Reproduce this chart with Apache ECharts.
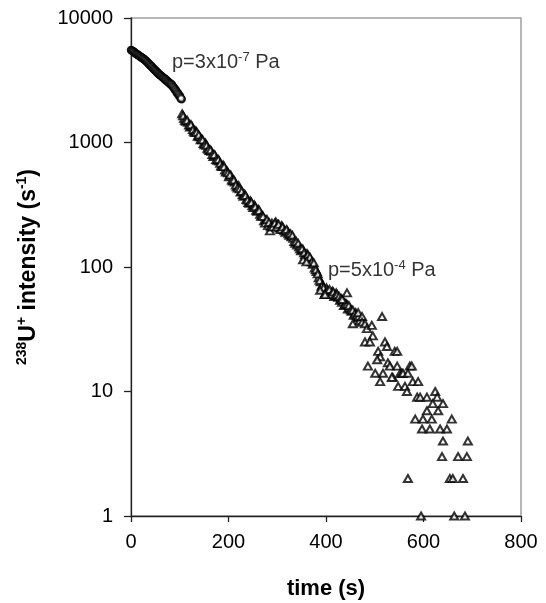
<!DOCTYPE html>
<html><head><meta charset="utf-8">
<script src="https://cdn.jsdelivr.net/npm/echarts@6/dist/echarts.min.js"></script>
<style>html,body{margin:0;padding:0;background:#fff}#c{width:546px;height:603px}</style>
</head><body><div id="c"></div>
<script>
// ---- data (time in s, intensity in s^-1) ----
const circleT = [0,2,4,6,8,10,12,14,16,18,20,22,24,26,28,30,32,34,36,38,40,42,44,46,48,50,52,54,56,58,60,62,64,66,68,70,72,74,76,78,80,82,84,86,88,90,92,94,96,98,100,102,104,
  1,3,5,7,9,11,13,15,17,19,21,23,25,27,29,31,33,35,37,39,41,43,45,47,49,51,53,55,57,59,61,63,65,67,69,71,73,75,77,79,81,83,85,87,89,91,93,95,97,99,101,103];
const circleV = [5530,5460,5400,5350,5240,5190,5100,5080,4980,4950,4850,4830,4720,4700,4620,4540,4500,4380,4340,4200,4180,4060,4030,3900,3880,3770,3750,3620,3610,3500,3490,3400,3390,3290,3300,3180,3200,3090,3100,2990,3010,2900,2920,2790,2770,2640,2650,2500,2510,2370,2390,2250,2230,
  5500,5420,5370,5300,5220,5150,5100,5020,4970,4900,4850,4780,4720,4660,4600,4510,4440,4360,4270,4200,4120,4050,3970,3900,3830,3760,3690,3610,3560,3500,3450,3400,3350,3300,3250,3200,3150,3100,3050,3010,2960,2920,2860,2790,2710,2650,2580,2510,2450,2380,2320,2260];

const triT = [105,109,113,117,121,125,129,133,137,141,145,149,153,157,161,165,169,173,177,181,185,189,193,197,201,205,209,213,217,221,225,229,233,237,241,245,249,253,257,261,265,269,273,277,281,285,289,293,297,301,305,309,313,317,321,325,329,333,337,341,345,349,353,357,361,365,369,373,377,381,385,389,393,397,401,405,409,413,417,421,425,429,433,437,441,445,449,453,457,461,465,469,
  107,111,115,119,123,127,131,135,139,143,147,151,155,159,163,167,171,175,179,183,187,191,195,199,203,207,211,215,219,223,227,231,235,239,243,247,251,255,259,263,267,271,275,279,283,287,291,295,299,303,307,311,315,319,323,327,331,335,339,343,347,351,355,359,363,367,371,375,379,383,387,391,395,399,403,407,411,415,419,423,427,431,435,439,443,447,451,455,459,463,467,
  353,360,388,398,433,443,455,466,474,474,480,484,494,496,480,490,521,525,507,511,505,486,501,517,511,515,541,546,527,531,546,572,576,552,556,558,568,537,535,578,589,548,562,566,587,593,607,624,628,619,640,607,630,583,599,617,658,597,613,634,648,640,691,638,671,689,568,654,660,681,595,663,685];
const triV = [1700,1560,1480,1450,1330,1350,1230,1240,1120,1110,1070,980,990,900,860,850,770,780,720,710,650,660,600,590,530,545,490,480,440,450,400,380,385,350,330,340,310,315,285,290,265,260,235,240,215,195,225,215,230,220,205,215,200,190,195,180,175,170,155,150,145,135,138,125,128,115,112,105,98,92,82,76,72,60,68,62,60,64,58,62,57,54,52,49,51,46,47,44,41,43,39,37,
  1640,1500,1510,1380,1390,1270,1200,1210,1150,1050,1050,960,950,880,870,800,800,730,730,680,640,640,580,570,550,500,500,455,430,425,405,370,375,345,325,330,300,305,280,285,255,255,225,240,228,210,210,225,210,220,200,210,195,200,185,185,180,160,160,155,140,140,130,120,125,120,110,108,95,88,78,70,68,62,65,66,60,63,59,60,58,56,54,50,50,49,45,45,42,41,40,
  114,110,65,60,55,62,35,43,40,36,35,32,34,28,25,25,25,23,21,19,18,16,14,14,12,40,21,21,17,16,16,16,16,14,14,14,14,13,13,12,12,11,11,10,9,9,9,10,9,8,8,7,7,6,6,6,6,5,5,5,5,4,4,3,3,3,2,2,2,2,1,1,1];

const noteT = [84, 404];
const noteV = [4352, 93];
const noteText = ['{n|p=3x10}{s|-7}{n| Pa}', '{n|p=5x10}{s|-4}{n| Pa}'];

const xTicks = [0, 800, 200];          // min, max, interval
const yTicks = [1, 10000];             // min, max (log)

const FONT = '"Liberation Sans", Arial, sans-serif';
const chart = echarts.init(document.getElementById('c'), null, {renderer: 'canvas'});

const circles = circleT.map((t, i) => [t, circleV[i]]);
const tris = triT.map((t, i) => [t, triV[i]]);
const notes = noteT.map((t, i) => ({value: [t, noteV[i]], label: {formatter: noteText[i]}}));

const richNote = {
  n: {fontSize: 20, fontFamily: FONT, color: '#000', lineHeight: 24},
  s: {fontSize: 13, fontFamily: FONT, color: '#000', lineHeight: 13, verticalAlign: 'top'}
};

chart.setOption({
  backgroundColor: '#fff',
  animation: false,
  grid: {left: 131, right: 25, top: 18, bottom: 87, containLabel: false, outerBoundsMode: 'none',
         show: true, borderColor: '#a0a0a0', borderWidth: 1.5, backgroundColor: 'transparent'},
  xAxis: {
    type: 'value', min: xTicks[0], max: xTicks[1], interval: xTicks[2],
    axisLine: {show: true, onZero: false, lineStyle: {color: '#222', width: 1.3}},
    axisTick: {show: true, inside: false, length: 6, lineStyle: {color: '#222', width: 1.3}},
    axisLabel: {fontSize: 20, fontFamily: FONT, color: '#000', margin: 16},
    splitLine: {show: false},
    name: 'time (s)', nameLocation: 'middle', nameGap: 62,
    nameTextStyle: {fontSize: 22, fontWeight: 'bold', fontFamily: FONT, color: '#000'}
  },
  yAxis: {
    type: 'log', logBase: 10, min: yTicks[0], max: yTicks[1],
    axisLine: {show: true, onZero: false, lineStyle: {color: '#222', width: 1.3}},
    axisTick: {show: true, inside: false, length: 7, lineStyle: {color: '#222', width: 1.3}},
    minorTick: {show: false},
    axisLabel: {fontSize: 20, fontFamily: FONT, color: '#000', margin: 18,
                formatter: v => String(Math.round(v))},
    splitLine: {show: false},
    name: '{s|238}{b|U}{s|+}{b| intensity (s}{s|-1}{b|)}',
    nameLocation: 'middle', nameGap: 88, nameRotate: 90,
    nameTextStyle: {
      rich: {
        b: {fontSize: 23, fontWeight: 'bold', fontFamily: FONT, color: '#000', lineHeight: 28},
        s: {fontSize: 14, fontWeight: 'bold', fontFamily: FONT, color: '#000', lineHeight: 14, verticalAlign: 'top'}
      }
    }
  },
  series: [
    {type: 'scatter', data: circles, symbol: 'emptyCircle', symbolSize: 6.5,
     itemStyle: {color: '#000', borderColor: '#000', borderWidth: 1.9}, z: 3},
    {type: 'scatter', data: tris, symbol: 'emptyTriangle', symbolSize: [8, 7],
     itemStyle: {color: '#000', borderColor: '#000', borderWidth: 1.9}, z: 3},
    {type: 'scatter', data: notes, symbolSize: 0, silent: true, z: 5,
     label: {show: true, position: 'right', distance: 0, rich: richNote}}
  ]
});
</script></body></html>
